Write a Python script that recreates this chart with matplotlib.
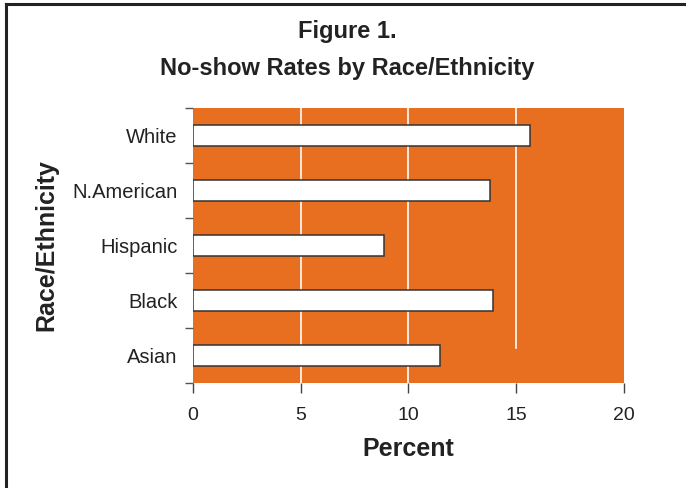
import matplotlib
matplotlib.use('Agg')
import matplotlib.pyplot as plt
from matplotlib.lines import Line2D

# data
groups = ['Asian', 'Black', 'Hispanic', 'N.American', 'White']
rates = [11.45, 13.9, 8.85, 13.8, 15.65]
xticks = [0, 5, 10, 15, 20]

plt.rcParams['font.family'] = ['Liberation Sans', 'DejaVu Sans']
ink = '#222222'
orange = '#E86E20'

fig = plt.figure(figsize=(6.86, 4.88), dpi=100)
ax = fig.add_axes([0.2813, 0.2152, 0.6283, 0.5635])
ax.set_facecolor(orange)

# white gridlines (the one at 15 stops short near the bottom, as in the original)
ax.axvline(5, color='white', lw=1.2, zorder=1)
ax.axvline(10, color='white', lw=1.2, zorder=1)
ax.axvline(15, ymin=0.127, color='white', lw=1.2, zorder=1)

ypos = range(len(groups))
ax.barh(ypos, rates, height=0.37, color='white', edgecolor='#333333', linewidth=1.1, zorder=2)

ax.set_xlim(0, 20)
ax.set_ylim(-0.5, len(groups) - 0.5)
ax.set_xticks(xticks)
ax.set_xticklabels([str(t) for t in xticks], fontsize=14, color=ink)
ax.set_yticks([i - 0.5 for i in range(len(groups) + 1)])
ax.set_yticklabels([])
ax.set_yticks(list(ypos), minor=True)
ax.set_yticklabels(groups, minor=True, fontsize=14.5, color=ink)
ax.tick_params(axis='y', which='minor', length=0, pad=11)
ax.tick_params(axis='y', which='major', length=6, width=1, color='#555555')
ax.tick_params(axis='x', length=7, width=1, color='#444444', pad=10)

for s in ax.spines.values():
    s.set_visible(False)

ax.set_xlabel('Percent', fontsize=18, fontweight='bold', color=ink, labelpad=10)
ax.set_ylabel('Race/Ethnicity', fontsize=18, fontweight='bold', color=ink, labelpad=10)

fig.text(0.506, 0.9227, 'Figure 1.', ha='center', va='baseline', fontsize=17,
         fontweight='bold', color=ink)
fig.text(0.506, 0.8455, 'No-show Rates by Race/Ethnicity', ha='center', va='baseline',
         fontsize=17, fontweight='bold', color=ink)

# frame: only top and left edges are visible in the crop
fig.add_artist(Line2D([6 / 686, 1], [1 - 3.5 / 488, 1 - 3.5 / 488], color=ink, lw=2.2,
                      transform=fig.transFigure))
fig.add_artist(Line2D([6 / 686, 6 / 686], [0, 1 - 3.5 / 488], color=ink, lw=2.2,
                      transform=fig.transFigure))

fig.savefig('out.png', dpi=100)
